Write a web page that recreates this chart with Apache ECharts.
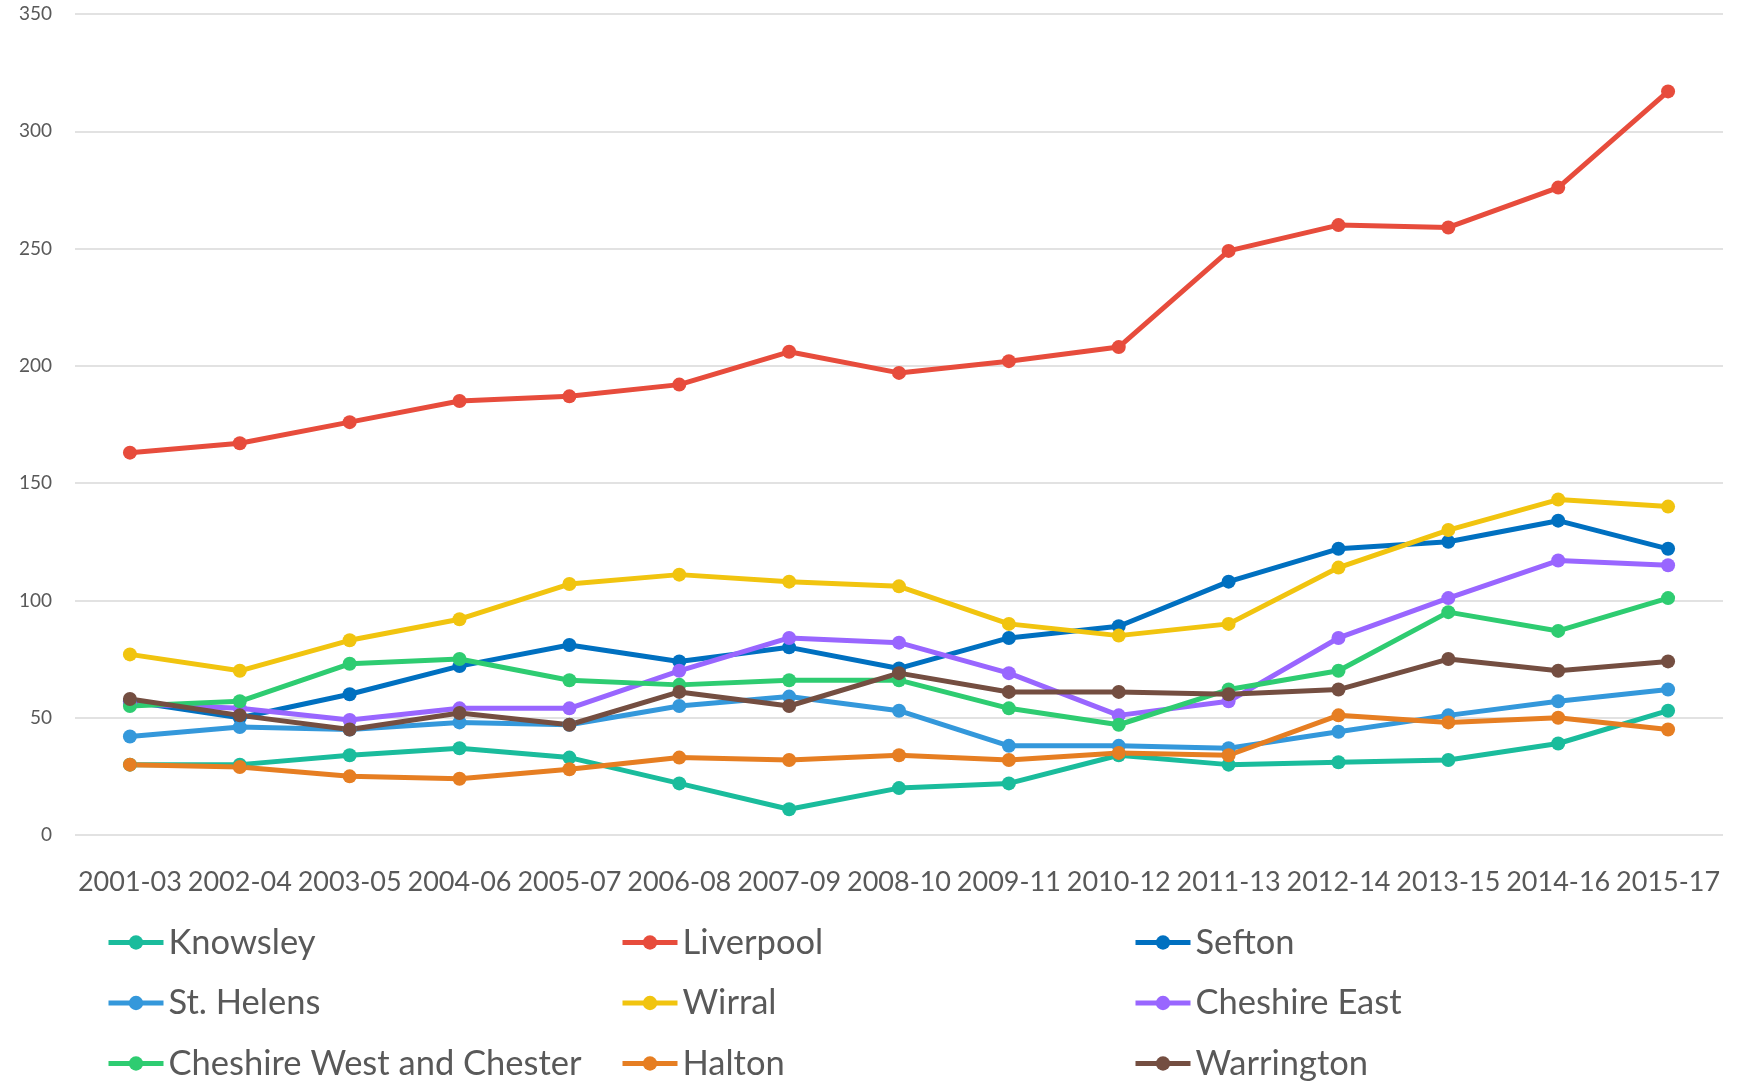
<!DOCTYPE html>
<html>
<head>
<meta charset="utf-8">
<script src="https://cdn.jsdelivr.net/npm/echarts@6/dist/echarts.min.js"></script>
<style>
html,body{margin:0;padding:0;background:#fff;}
#chart{width:1749px;height:1082px;}
</style>
</head>
<body>
<div id="chart"></div>
<script>
var categories = ['2001-03','2002-04','2003-05','2004-06','2005-07','2006-08','2007-09','2008-10','2009-11','2010-12','2011-13','2012-14','2013-15','2014-16','2015-17'];
var yTicks = [0, 50, 100, 150, 200, 250, 300, 350];

var knowsley      = [30, 30, 34, 37, 33, 22, 11, 20, 22, 34, 30, 31, 32, 39, 53];
var liverpool     = [163, 167, 176, 185, 187, 192, 206, 197, 202, 208, 249, 260, 259, 276, 317];
var sefton        = [57, 50, 60, 72, 81, 74, 80, 71, 84, 89, 108, 122, 125, 134, 122];
var stHelens      = [42, 46, 45, 48, 47, 55, 59, 53, 38, 38, 37, 44, 51, 57, 62];
var wirral        = [77, 70, 83, 92, 107, 111, 108, 106, 90, 85, 90, 114, 130, 143, 140];
var cheshireEast  = [56, 54, 49, 54, 54, 70, 84, 82, 69, 51, 57, 84, 101, 117, 115];
var cheshireWest  = [55, 57, 73, 75, 66, 64, 66, 66, 54, 47, 62, 70, 95, 87, 101];
var halton        = [30, 29, 25, 24, 28, 33, 32, 34, 32, 35, 34, 51, 48, 50, 45];
var warrington    = [58, 51, 45, 52, 47, 61, 55, 69, 61, 61, 60, 62, 75, 70, 74];

var seriesNames = ['Knowsley','Liverpool','Sefton','St. Helens','Wirral','Cheshire East','Cheshire West and Chester','Halton','Warrington'];
var seriesData  = [knowsley, liverpool, sefton, stHelens, wirral, cheshireEast, cheshireWest, halton, warrington];
var colors = ['#1ABC9C','#E74C3C','#0070C0','#3498DB','#F1C40F','#9966FF','#2ECC71','#E67E22','#744E41'];

var series = seriesNames.map(function(n, i){
  return {
    name: n, type: 'line', data: seriesData[i],
    symbol: 'circle', symbolSize: 14, showSymbol: true,
    itemStyle: {color: colors[i]},
    lineStyle: {color: colors[i], width: 5},
    animation: false
  };
});

function makeLegend(names, left){
  return {
    orient: 'vertical', left: left, top: 925,
    data: names,
    itemWidth: 55, itemHeight: 18, itemGap: 25.5, itemTextGap: 3,
    lineStyle: {width: 5},
    textStyle: {fontFamily: 'Lato', fontSize: 34.5, color: '#595959', lineHeight: 34},
    padding: 0
  };
}

var chart = echarts.init(document.getElementById('chart'), null, {renderer: 'canvas'});
chart.setOption({
  backgroundColor: '#fff',
  color: colors,
  animation: false,
  grid: {left: 75, right: 26, top: 14, bottom: 247, containLabel: false},
  legend: [
    makeLegend(['Knowsley','St. Helens','Cheshire West and Chester'], 106),
    makeLegend(['Liverpool','Wirral','Halton'], 620),
    makeLegend(['Sefton','Cheshire East','Warrington'], 1133)
  ],
  xAxis: {
    type: 'category', data: categories, boundaryGap: true,
    axisLine: {show: false}, axisTick: {show: false},
    axisLabel: {interval: 0, margin: 34, fontFamily: 'Lato', fontSize: 27, color: '#595959'}
  },
  yAxis: {
    type: 'value', min: yTicks[0], max: yTicks[yTicks.length-1], interval: 50,
    axisLine: {show: false}, axisTick: {show: false},
    axisLabel: {margin: 23, fontFamily: 'Lato', fontSize: 19, color: '#595959'},
    splitLine: {lineStyle: {color: '#d9d9d9', width: 1.5}}
  },
  series: series
});
</script>
</body>
</html>
